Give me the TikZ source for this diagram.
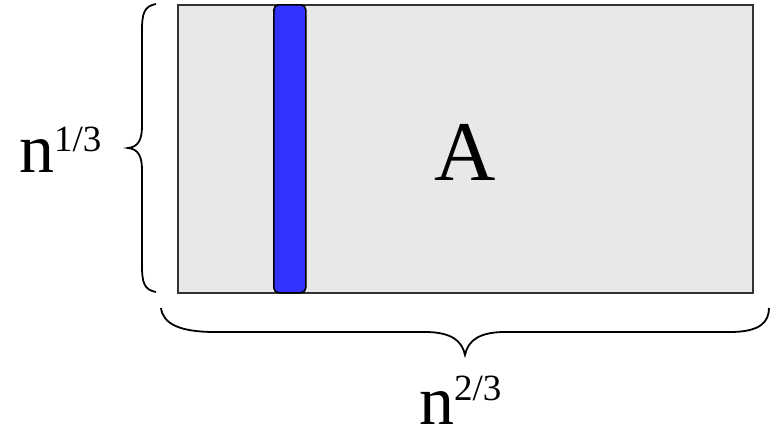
\documentclass[tikz,border=0pt]{standalone}
\usepackage{fontspec}
\setmainfont{Liberation Serif}
\definecolor{boxgray}{HTML}{E8E8E8}
\definecolor{bargblue}{HTML}{3333FF}
\tikzset{
  bracestyle/.style={draw=black, line width=1.8pt},
  lbl/.style={inner sep=0pt, anchor=base west},
}
\newcommand{\bigtxt}{\fontsize{70}{70}\selectfont}
\newcommand{\suptxt}{\fontsize{37}{37}\selectfont}
\begin{document}
\begin{tikzpicture}[x=1pt,y=-1pt]
\useasboundingbox (0,0) rectangle (771,431);
% matrix
\node[draw=black!80, fill=boxgray, line width=1.6pt, minimum width=575pt, minimum height=288pt, inner sep=0pt, anchor=north west] (mat) at (177,4) {};
\node[draw=black, fill=bargblue, line width=1.6pt, rounded corners=5pt, minimum width=32pt, minimum height=288pt, inner sep=0pt, anchor=north west] (bar) at (273,4) {};
\node[inner sep=0pt, anchor=base] (A) at (465,180) {\fontsize{85}{85}\selectfont A};
% left brace
\coordinate (lt) at (156,4);
\coordinate (lb) at (156,292);
\coordinate (ltip) at (128,148);
\draw[bracestyle] (lt) .. controls (144,6) and (142,14) .. (142,30)
  -- (142,126) .. controls (142,140) and (138,147) .. (ltip)
  .. controls (138,149) and (142,156) .. (142,170)
  -- (142,266) .. controls (142,282) and (144,290) .. (lb);
% bottom brace
\coordinate (bl) at (161,308);
\coordinate (br) at (769,308);
\coordinate (btip) at (465,355);
\draw[bracestyle] (bl) .. controls (163,324) and (180,332) .. (215,332)
  -- (425,332) .. controls (450,332) and (462,340) .. (btip)
  .. controls (468,340) and (480,332) .. (505,332)
  -- (730,332) .. controls (760,332) and (769,322) .. (br);
% labels
\node[lbl] (l13) at (19,172) {\bigtxt n\raisebox{21pt}{\suptxt 1/3}};
\node[lbl] (l23) at (419,424) {\bigtxt n\raisebox{24pt}{\suptxt 2/3}};
\end{tikzpicture}
\end{document}
